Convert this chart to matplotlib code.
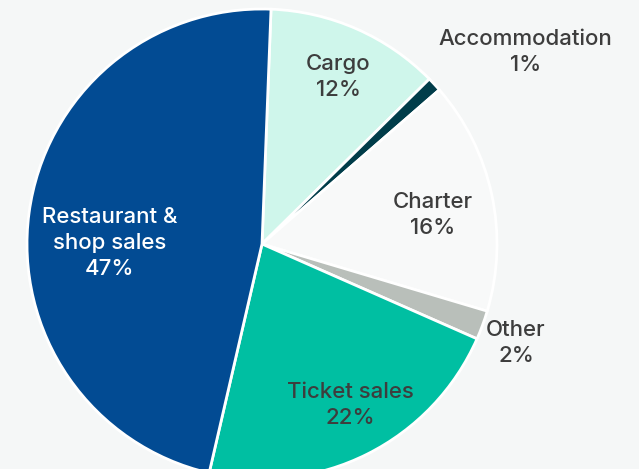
import numpy as np
import matplotlib.pyplot as plt

# Revenue share by segment (clockwise from top)
labels = ['Cargo', 'Accommodation', 'Charter', 'Other', 'Ticket sales', 'Restaurant &\nshop sales']
shares = [12, 1, 16, 2, 22, 47]
colors = ['#cff6eb', '#013d4a', '#f8f9f9', '#b9bfba', '#00bfa2', '#024b93']
text_colors = ['#3d3d3d', '#3d3d3d', '#3d3d3d', '#3d3d3d', '#3d3d3d', '#ffffff']
# label placement: radial distance (in radii) and angle shift from wedge middle
label_dist = [0.78, 1.386, 0.738, 1.16, 0.78, 0.647]
label_shift = [-0.7, -6.7, -2.6, -1.1, 2.1, 7.2]

bg = '#f5f7f7'
cx, cy, R = 262, 244, 235  # pie centre and radius in pixels

fig = plt.figure(figsize=(6.39, 4.69), dpi=100, facecolor=bg)
ax = fig.add_axes([0, 0, 1, 1])
ax.set_facecolor(bg)

wedges, _ = ax.pie(shares, colors=colors, startangle=87.8, counterclock=False,
                   radius=1, wedgeprops=dict(edgecolor='white', linewidth=2))

for w, lab, s, tc, d, sh in zip(wedges, labels, shares, text_colors, label_dist, label_shift):
    mid = np.deg2rad((w.theta1 + w.theta2) / 2 + sh)
    ax.text(d * np.cos(mid), d * np.sin(mid), f'{lab}\n{s}%', ha='center', va='center',
            fontsize=16, color=tc, family='Inter', weight='medium', linespacing=1.35)

ax.set_xlim(-cx / R, (639 - cx) / R)
ax.set_ylim(-(469 - cy) / R, cy / R)
ax.set_aspect('auto')
ax.axis('off')

fig.savefig('out.png', dpi=100, facecolor=bg)
